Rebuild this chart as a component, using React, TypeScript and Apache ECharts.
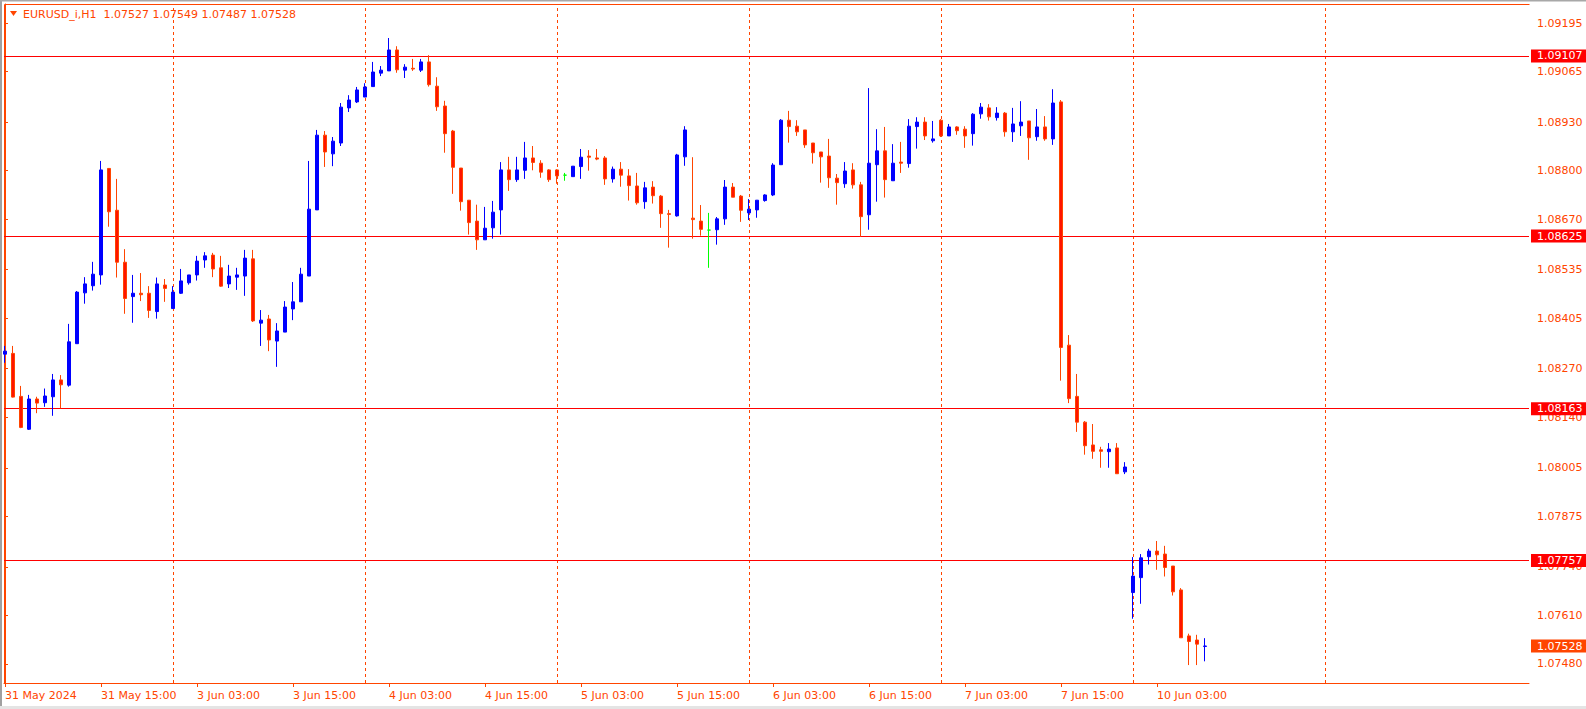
import React, { useEffect, useRef } from 'react';
import * as echarts from 'echarts';

const TITLE_TEXT = 'EURUSD_i,H1  1.07527 1.07549 1.07487 1.07528';

const TIME_LABELS = ['31 May 2024', '31 May 15:00', '3 Jun 03:00', '3 Jun 15:00', '4 Jun 03:00', '4 Jun 15:00', '5 Jun 03:00', '5 Jun 15:00', '6 Jun 03:00', '6 Jun 15:00', '7 Jun 03:00', '7 Jun 15:00', '10 Jun 03:00'];
const TIME_LABEL_BARS = [0, 12, 24, 36, 48, 60, 72, 84, 96, 108, 120, 132, 144];
const DAY_SEPARATOR_BARS = [21, 45, 69, 93, 117, 141, 165];
const PRICE_TICKS = [1.09195, 1.09065, 1.0893, 1.088, 1.0867, 1.08535, 1.08405, 1.0827, 1.0814, 1.08005, 1.07875, 1.0774, 1.0761, 1.0748];
const LEVELS = [1.09107, 1.08625, 1.08163, 1.07757];
const LAST_PRICE = 1.07528;

const OPEN = [
  1.08309, 1.08311, 1.08196, 1.08108, 1.08189, 1.08179, 1.08195, 1.08240, 1.08226, 1.08337,
  1.08473, 1.08492, 1.08521, 1.08806, 1.08694, 1.08555, 1.08463, 1.08472, 1.08472, 1.08423,
  1.08494, 1.08431, 1.08472, 1.08500, 1.08521, 1.08561, 1.08574, 1.08540, 1.08497, 1.08515,
  1.08518, 1.08564, 1.08392, 1.08403, 1.08344, 1.08368, 1.08430, 1.08449, 1.08518, 1.08695,
  1.08895, 1.08845, 1.08874, 1.08968, 1.08984, 1.08997, 1.09025, 1.09061, 1.09067, 1.09123,
  1.09069, 1.09074, 1.09069, 1.09091, 1.09026, 1.08973, 1.08906, 1.08807, 1.08721, 1.08665,
  1.08615, 1.08647, 1.08695, 1.08802, 1.08776, 1.08801, 1.08834, 1.08820, 1.08802, 1.08802,
  1.08788, 1.08784, 1.08811, 1.08839, 1.08834, 1.08834, 1.08778, 1.08804, 1.08786, 1.08759,
  1.08717, 1.08756, 1.08732, 1.08685, 1.08679, 1.08837, 1.08673, 1.08665, 1.08641, 1.08642,
  1.08671, 1.08756, 1.08732, 1.08687, 1.08695, 1.08720, 1.08735, 1.08816, 1.08935, 1.08919,
  1.08909, 1.08874, 1.08850, 1.08839, 1.08780, 1.08765, 1.08802, 1.08762, 1.08682, 1.08816,
  1.08853, 1.08773, 1.08823, 1.08819, 1.08918, 1.08930, 1.08880, 1.08935, 1.08893, 1.08917,
  1.08911, 1.08899, 1.08952, 1.08968, 1.08942, 1.08954, 1.08904, 1.08920, 1.08933, 1.08891,
  1.08917, 1.08885, 1.08984, 1.08333, 1.08196, 1.08127, 1.08066, 1.08053, 1.08048, 1.08058,
  1.07994, 1.07671, 1.07711, 1.07767, 1.07782, 1.07774, 1.07742, 1.07678, 1.07555, 1.07544, 1.07527,
];

const CLOSE = [
  1.08317, 1.08194, 1.08113, 1.08189, 1.08178, 1.08197, 1.08240, 1.08227, 1.08342, 1.08475,
  1.08497, 1.08523, 1.08802, 1.08690, 1.08555, 1.08458, 1.08472, 1.08468, 1.08426, 1.08497,
  1.08485, 1.08475, 1.08505, 1.08521, 1.08558, 1.08572, 1.08537, 1.08491, 1.08518, 1.08521,
  1.08566, 1.08398, 1.08400, 1.08347, 1.08371, 1.08435, 1.08449, 1.08523, 1.08697, 1.08895,
  1.08850, 1.08879, 1.08970, 1.08989, 1.09016, 1.09024, 1.09064, 1.09069, 1.09123, 1.09070,
  1.09077, 1.09072, 1.09091, 1.09030, 1.08971, 1.08899, 1.08809, 1.08717, 1.08661, 1.08615,
  1.08646, 1.08689, 1.08802, 1.08776, 1.08802, 1.08834, 1.08822, 1.08796, 1.08776, 1.08786,
  1.08788, 1.08812, 1.08836, 1.08836, 1.08831, 1.08778, 1.08804, 1.08788, 1.08760, 1.08714,
  1.08754, 1.08733, 1.08685, 1.08683, 1.08842, 1.08909, 1.08669, 1.08643, 1.08641, 1.08671,
  1.08756, 1.08729, 1.08694, 1.08697, 1.08721, 1.08735, 1.08815, 1.08935, 1.08918, 1.08904,
  1.08869, 1.08848, 1.08837, 1.08781, 1.08768, 1.08799, 1.08762, 1.08677, 1.08820, 1.08853,
  1.08776, 1.08820, 1.08820, 1.08919, 1.08930, 1.08893, 1.08885, 1.08893, 1.08917, 1.08907,
  1.08893, 1.08951, 1.08970, 1.08944, 1.08954, 1.08904, 1.08925, 1.08930, 1.08888, 1.08917,
  1.08885, 1.08981, 1.08327, 1.08190, 1.08127, 1.08064, 1.08049, 1.08049, 1.08055, 1.07989,
  1.08007, 1.07715, 1.07764, 1.07782, 1.07772, 1.07738, 1.07673, 1.07550, 1.07540, 1.07533, 1.07528,
];

const HIGH = [
  1.08331, 1.08331, 1.08224, 1.08200, 1.08195, 1.08217, 1.08256, 1.08253, 1.08390, 1.08478,
  1.08515, 1.08556, 1.08826, 1.08807, 1.08778, 1.08590, 1.08521, 1.08526, 1.08491, 1.08514,
  1.08510, 1.08491, 1.08537, 1.08521, 1.08572, 1.08582, 1.08580, 1.08572, 1.08548, 1.08540,
  1.08588, 1.08588, 1.08427, 1.08414, 1.08392, 1.08451, 1.08502, 1.08540, 1.08826, 1.08909,
  1.08906, 1.08890, 1.08981, 1.09002, 1.09024, 1.09034, 1.09091, 1.09080, 1.09155, 1.09133,
  1.09085, 1.09099, 1.09099, 1.09109, 1.09050, 1.08987, 1.08909, 1.08807, 1.08721, 1.08709,
  1.08703, 1.08719, 1.08823, 1.08837, 1.08837, 1.08877, 1.08866, 1.08828, 1.08804, 1.08804,
  1.08794, 1.08812, 1.08858, 1.08855, 1.08858, 1.08839, 1.08811, 1.08823, 1.08804, 1.08794,
  1.08770, 1.08772, 1.08735, 1.08695, 1.08845, 1.08919, 1.08836, 1.08708, 1.08687, 1.08676,
  1.08775, 1.08767, 1.08735, 1.08724, 1.08721, 1.08737, 1.08820, 1.08938, 1.08960, 1.08935,
  1.08909, 1.08874, 1.08850, 1.08885, 1.08791, 1.08823, 1.08820, 1.08770, 1.09021, 1.08911,
  1.08917, 1.08871, 1.08877, 1.08938, 1.08943, 1.08943, 1.08933, 1.08938, 1.08925, 1.08919,
  1.08919, 1.08954, 1.08981, 1.08978, 1.08970, 1.08957, 1.08968, 1.08986, 1.08933, 1.08965,
  1.08946, 1.09018, 1.08989, 1.08360, 1.08256, 1.08130, 1.08122, 1.08061, 1.08071, 1.08071,
  1.08020, 1.07766, 1.07774, 1.07788, 1.07809, 1.07796, 1.07742, 1.07683, 1.07561, 1.07558, 1.07549,
];

const LOW = [
  1.08286, 1.08193, 1.08111, 1.08106, 1.08151, 1.08168, 1.08144, 1.08164, 1.08222, 1.08337,
  1.08444, 1.08479, 1.08495, 1.08650, 1.08514, 1.08417, 1.08393, 1.08451, 1.08406, 1.08404,
  1.08449, 1.08431, 1.08470, 1.08495, 1.08506, 1.08540, 1.08515, 1.08489, 1.08486, 1.08481,
  1.08465, 1.08395, 1.08331, 1.08317, 1.08275, 1.08368, 1.08400, 1.08449, 1.08518, 1.08695,
  1.08810, 1.08812, 1.08866, 1.08957, 1.08981, 1.08997, 1.09025, 1.09053, 1.09067, 1.09062,
  1.09048, 1.09067, 1.09064, 1.09025, 1.08960, 1.08848, 1.08738, 1.08693, 1.08629, 1.08588,
  1.08615, 1.08618, 1.08629, 1.08746, 1.08770, 1.08778, 1.08801, 1.08781, 1.08770, 1.08765,
  1.08773, 1.08784, 1.08778, 1.08800, 1.08828, 1.08762, 1.08768, 1.08757, 1.08720, 1.08709,
  1.08698, 1.08712, 1.08647, 1.08594, 1.08677, 1.08813, 1.08618, 1.08626, 1.08540, 1.08602,
  1.08655, 1.08729, 1.08663, 1.08668, 1.08674, 1.08717, 1.08732, 1.08816, 1.08875, 1.08893,
  1.08861, 1.08819, 1.08768, 1.08754, 1.08709, 1.08754, 1.08752, 1.08623, 1.08642, 1.08717,
  1.08728, 1.08773, 1.08794, 1.08808, 1.08859, 1.08882, 1.08875, 1.08890, 1.08893, 1.08896,
  1.08861, 1.08867, 1.08939, 1.08934, 1.08934, 1.08891, 1.08877, 1.08893, 1.08829, 1.08880,
  1.08880, 1.08869, 1.08238, 1.08178, 1.08101, 1.08040, 1.08029, 1.08005, 1.08005, 1.07989,
  1.07988, 1.07601, 1.07641, 1.07746, 1.07732, 1.07714, 1.07663, 1.07550, 1.07477, 1.07477, 1.07487,
];

const FG = '#ff4500';
const FONT = 'DejaVu Sans';

export default function App() {
  const ref = useRef<HTMLDivElement>(null);

  useEffect(() => {
    document.body.style.margin = '0';
    document.body.style.background = '#ffffff';
    if (!ref.current) return;
    const chart = echarts.init(ref.current, null, { renderer: 'svg' });

    const candleData = OPEN.map((o, i) => [i, o, CLOSE[i], LOW[i], HIGH[i]]);

    const levelLabel = (bg: string, text: string) => ({
      show: true,
      position: 'end',
      distance: 2,
      formatter: text,
      color: '#ffffff',
      backgroundColor: bg,
      padding: [0, 6, 0, 6],
      lineHeight: 13,
      fontSize: 11,
      fontFamily: FONT,
    });

    const markData: any[] = [
      ...DAY_SEPARATOR_BARS.map((b) => ({
        xAxis: b,
        lineStyle: { color: FG, type: [3, 3], width: 1 },
        label: { show: false },
      })),
      ...LEVELS.map((v) => ({
        yAxis: v,
        lineStyle: { color: '#ff0000', type: 'solid', width: 1 },
        label: levelLabel('#ff0000', v.toFixed(5)),
      })),
      {
        yAxis: LAST_PRICE,
        lineStyle: { color: 'rgba(0,0,0,0)', width: 0, type: 'solid' },
        label: levelLabel(FG, LAST_PRICE.toFixed(5)),
      },
    ];

    const option: any = {
      animation: false,
      backgroundColor: '#ffffff',
      textStyle: { fontFamily: FONT, fontSize: 11 },
      grid: { left: 4, right: 57, top: 4, bottom: 26, containLabel: false },
      xAxis: {
        type: 'value',
        min: -0.125,
        max: 190.5,
        axisLine: { show: true, lineStyle: { color: FG, width: 1 } },
        axisTick: { show: true, length: 4, lineStyle: { color: FG }, customValues: TIME_LABEL_BARS },
        axisLabel: {
          show: true,
          customValues: TIME_LABEL_BARS,
          formatter: (v: number) => {
            const k = TIME_LABEL_BARS.indexOf(Math.round(v));
            return k >= 0 ? TIME_LABELS[k] : '';
          },
          color: FG,
          fontFamily: FONT,
          fontSize: 11,
          align: 'left',
          margin: 7,
        },
        splitLine: { show: false },
      },
      yAxis: {
        type: 'value',
        position: 'right',
        min: 1.07429,
        max: 1.09246,
        scale: true,
        axisLine: { show: true, lineStyle: { color: FG, width: 1 } },
        axisTick: { show: true, length: 3, lineStyle: { color: FG }, customValues: PRICE_TICKS },
        axisLabel: {
          show: true,
          customValues: PRICE_TICKS,
          formatter: (v: number) => v.toFixed(5),
          color: FG,
          fontFamily: FONT,
          fontSize: 11,
          margin: 8,
        },
        splitLine: { show: false },
      },
      graphic: [
        { type: 'rect', shape: { x: 0, y: 0, width: 2, height: 709 }, style: { fill: '#a0a0a0' }, silent: true },
        { type: 'rect', shape: { x: 0, y: 0, width: 1586, height: 1.5 }, style: { fill: '#a8a8a8' }, silent: true },
        { type: 'rect', shape: { x: 0, y: 706, width: 1586, height: 3 }, style: { fill: '#e4e4e4' }, silent: true },
        { type: 'line', shape: { x1: 4.5, y1: 4.5, x2: 1529.5, y2: 4.5 }, style: { stroke: FG, lineWidth: 1 }, silent: true },
        { type: 'line', shape: { x1: 4.5, y1: 4.5, x2: 4.5, y2: 683.5 }, style: { stroke: FG, lineWidth: 1 }, silent: true },
        { type: 'polygon', shape: { points: [[10, 11], [17, 11], [13.5, 16]] }, style: { fill: FG }, silent: true },
        {
          type: 'text',
          x: 23,
          y: 14,
          style: {
            text: TITLE_TEXT,
            fill: FG,
            font: `11px "${FONT}"`,
            textVerticalAlign: 'middle',
            verticalAlign: 'middle',
          },
          silent: true,
        },
      ],
      series: [
        {
          type: 'candlestick',
          data: candleData,
          encode: { x: 0, y: [1, 2, 3, 4] },
          barWidth: 4,
          itemStyle: {
            color: '#0000ff',
            color0: '#ff1400',
            borderColor: '#0000ff',
            borderColor0: FG,
            borderColorDoji: '#00ff00',
            borderWidth: 1,
          },
          markLine: {
            silent: true,
            z: 1,
            precision: 5,
            symbol: ['none', 'none'],
            label: { show: false },
            data: markData,
          },
        },
      ],
    };

    chart.setOption(option);
    return () => chart.dispose();
  }, []);

  return <div ref={ref} style={{ width: 1586, height: 709 }} />;
}
